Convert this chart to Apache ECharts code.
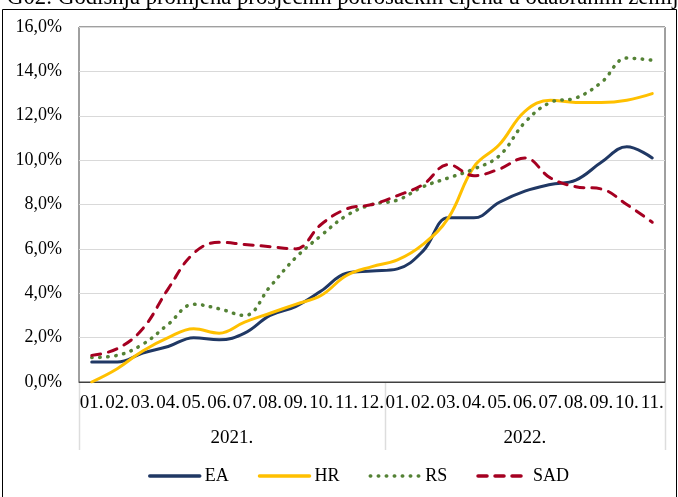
<!DOCTYPE html>
<html>
<head>
<meta charset="utf-8">
<script src="https://cdn.jsdelivr.net/npm/echarts@6/dist/echarts.min.js"></script>
<style>html,body{margin:0;padding:0;background:#fff}#c{width:678px;height:497px}</style>
</head>
<body>
<div id="c"></div>
<script>
var titleText = 'G02: Godišnja promjena prosječnih potrošačkih cijena u odabranim zemljama';
var months = ['01.','02.','03.','04.','05.','06.','07.','08.','09.','10.','11.','12.',
              '01.','02.','03.','04.','05.','06.','07.','08.','09.','10.','11.'];
var years = ['2021.', '2022.'];
var yearStart = [0, 12];
var yearEnd = [11, 22];
var yTicks = [0, 2, 4, 6, 8, 10, 12, 14, 16];
var seriesNames = ['EA', 'HR', 'RS', 'SAD'];
var EA  = [0.9,0.9,1.3,1.6,2.0,1.9,2.2,3.0,3.4,4.1,4.9,5.0, 5.1,5.9,7.4,7.4,8.1,8.6,8.9,9.1,9.9,10.6,10.1];
var HR  = [0.0,0.6,1.4,2.0,2.4,2.2,2.7,3.1,3.5,3.9,4.8,5.2, 5.5,6.2,7.4,9.7,10.7,12.2,12.7,12.6,12.6,12.7,13.0];
var RS  = [1.1,1.2,1.7,2.6,3.5,3.3,3.0,4.3,5.6,6.6,7.5,8.0, 8.2,8.8,9.2,9.6,10.2,11.7,12.6,12.8,13.5,14.6,14.5];
var SAD = [1.2,1.5,2.4,4.2,5.8,6.3,6.2,6.1,6.0,7.1,7.8,8.0, 8.4,8.9,9.8,9.3,9.6,10.1,9.2,8.8,8.7,8.0,7.2];

var FONT = 'Liberation Serif';
var chart = echarts.init(document.getElementById('c'), null, {renderer: 'canvas'});

function mk(name, data, color, type, width) {
  return {
    name: name, type: 'line', data: data, smooth: 0.4,
    symbol: 'none', showSymbol: false,
    lineStyle: {color: color, width: width, type: type, cap: 'round'},
    itemStyle: {color: color},
    emphasis: {disabled: true}
  };
}

var option = {
  animation: false,
  grid: {left: 79, right: 13, top: 27, bottom: 115, show: true, borderColor: '#404040', borderWidth: 1, backgroundColor: 'transparent'},
  legend: {
    data: seriesNames, left: 148, top: 467, padding: 0, itemWidth: 50, itemHeight: 14, itemGap: 29,
    textStyle: {fontFamily: FONT, fontSize: 18, color: '#000'},
    itemStyle: {opacity: 0, borderWidth: 0},
    lineStyle: {width: 3.5},
    selectedMode: false
  },
  xAxis: {
    type: 'category', data: months, boundaryGap: true,
    axisLine: {show: true, lineStyle: {color: '#404040'}},
    axisTick: {show: false},
    axisLabel: {interval: 0, fontFamily: FONT, fontSize: 19, color: '#000', margin: 12}
  },
  yAxis: {
    type: 'value', min: yTicks[0], max: yTicks[yTicks.length - 1], interval: 2,
    axisLine: {show: false}, axisTick: {show: false},
    splitLine: {lineStyle: {color: '#D9D9D9', width: 1}},
    axisLabel: {fontFamily: FONT, fontSize: 18, color: '#000', margin: 17,
      formatter: function (v) { return v.toFixed(1).replace('.', ',') + '%'; }}
  },
  series: [
    mk('EA', EA, '#203864', 'solid', 3),
    mk('HR', HR, '#FFC000', 'solid', 3),
    mk('RS', RS, '#548235', [0.5, 7.5], 3.5),
    mk('SAD', SAD, '#A50021', [9, 8], 3)
  ]
};
chart.setOption(option);

var x0 = chart.convertToPixel({xAxisIndex: 0}, 0);
var x1 = chart.convertToPixel({xAxisIndex: 0}, 1);
var bw = x1 - x0;
var yBase = chart.convertToPixel({yAxisIndex: 0}, 0);
var g = [];
g.push({type: 'rect', shape: {x: 2.5, y: 9.5, width: 674, height: 500}, style: {fill: 'none', stroke: '#000', lineWidth: 1}, silent: true});
g.push({type: 'text', x: 7, y: -2, style: {text: titleText, font: '22.7px "' + FONT + '"', fill: '#000', verticalAlign: 'middle', align: 'left'}, silent: true});
var bounds = [];
for (var k = 0; k < years.length; k++) {
  var a = chart.convertToPixel({xAxisIndex: 0}, yearStart[k]) - bw / 2;
  var b = chart.convertToPixel({xAxisIndex: 0}, yearEnd[k]) + bw / 2;
  if (k === 0) bounds.push(a);
  bounds.push(b);
  g.push({type: 'text', x: (a + b) / 2, y: yBase + 56, style: {text: years[k], font: '19px "' + FONT + '"', fill: '#000', align: 'center', verticalAlign: 'middle'}, silent: true});
}
bounds.forEach(function (bx) {
  var xx = Math.round(bx) + 0.5;
  g.push({type: 'line', shape: {x1: xx, y1: yBase + 1, x2: xx, y2: yBase + 68}, style: {stroke: '#DDDDDD', lineWidth: 1.5}, silent: true});
});
chart.setOption({graphic: g});
</script>
</body>
</html>
